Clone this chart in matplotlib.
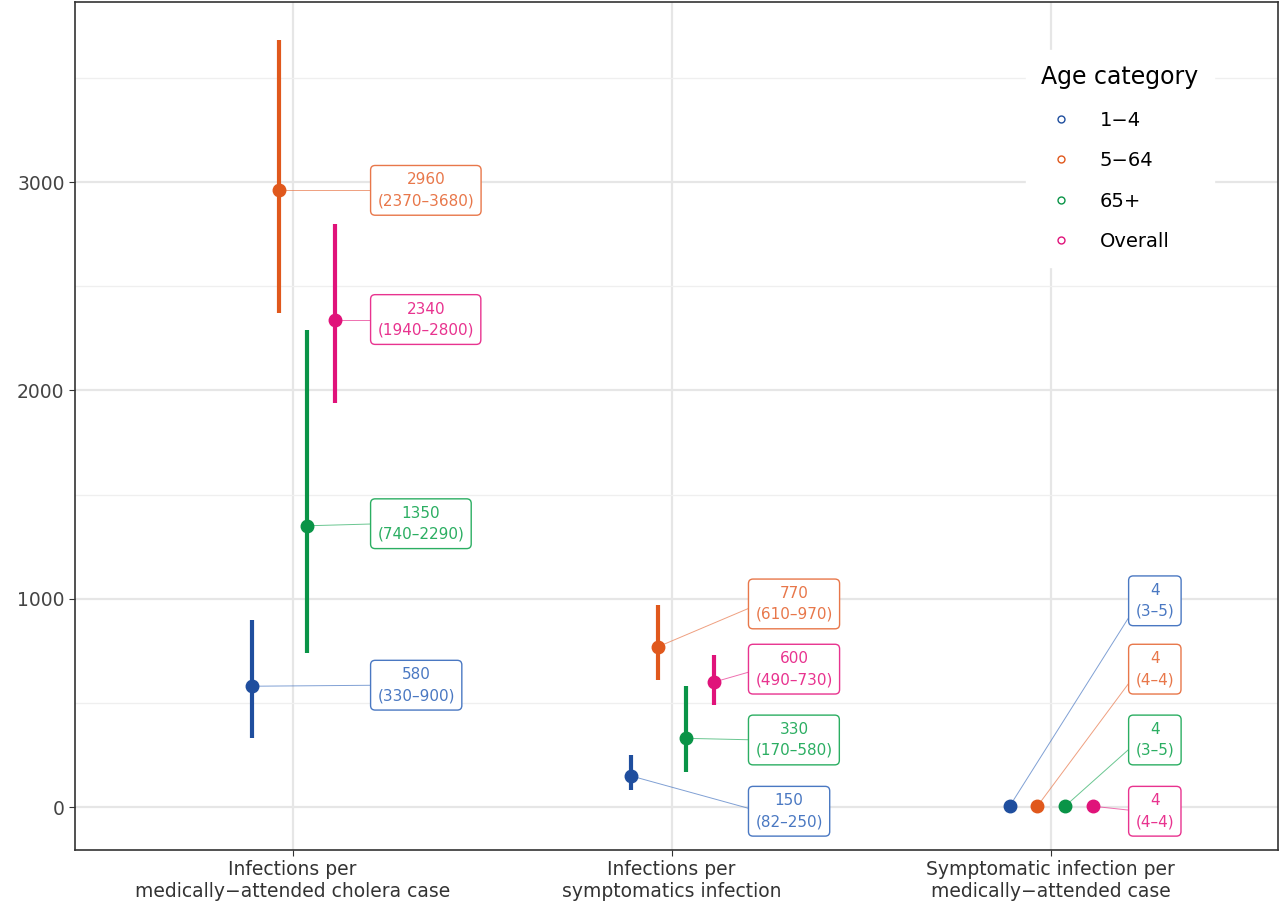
import matplotlib
matplotlib.use("Agg")
import matplotlib.pyplot as plt
from matplotlib.lines import Line2D

categories = ["Infections per\nmedically\u2212attended cholera case",
              "Infections per\nsymptomatics infection",
              "Symptomatic infection per\nmedically\u2212attended case"]
groups = ["1\u22124", "5\u221264", "65+", "Overall"]
est = {"1\u22124": [580, 150, 4], "5\u221264": [2960, 770, 4], "65+": [1350, 330, 4], "Overall": [2340, 600, 4]}
low = {"1\u22124": [330, 82, 3], "5\u221264": [2370, 610, 4], "65+": [740, 170, 3], "Overall": [1940, 490, 4]}
high = {"1\u22124": [900, 250, 5], "5\u221264": [3680, 970, 4], "65+": [2290, 580, 5], "Overall": [2800, 730, 4]}

colors = {"1\u22124": "#1F4E9E", "5\u221264": "#E0581C", "65+": "#0A9447", "Overall": "#E0137A"}
lcolors = {"1\u22124": "#4A78C2", "5\u221264": "#E8774A", "65+": "#2BAE62", "Overall": "#E8338F"}
dodge = {"1\u22124": -0.108, "5\u221264": -0.035, "65+": 0.038, "Overall": 0.112}
label_dx = [0.224, 0.221, 0.224]
label_y = {"1\u22124": [585, -20, 990], "5\u221264": [2960, 975, 662], "65+": [1360, 322, 322], "Overall": [2340, 662, -20]}

fig = plt.figure(figsize=(12.8, 9.08), dpi=100)
ax = fig.add_axes([75/1280, 58/908, 1203/1280, 848/908])
ax.set_xlim(0.426, 3.6)
ax.set_ylim(-206, 3864)
ax.set_yticks([0, 1000, 2000, 3000])
ax.set_yticks([500, 1500, 2500, 3500], minor=True)
ax.set_xticks([1, 2, 3])
ax.set_xticklabels(categories, fontsize=13.5, color="#333333")
ax.tick_params(axis="y", labelsize=13.5, labelcolor="#444444", length=4, color="#333333")
ax.tick_params(axis="x", length=4, color="#333333")
ax.tick_params(axis="y", which="minor", length=0)
ax.grid(True, which="major", color="#E6E6E6", lw=1.6, zorder=0)
ax.grid(True, which="minor", axis="y", color="#EFEFEF", lw=0.9, zorder=0)
ax.set_axisbelow(True)
for s in ax.spines.values():
    s.set_color("#333333"); s.set_linewidth(1.2)

for g in groups:
    for i in range(3):
        x = i + 1 + dodge[g]
        ax.plot([x, x], [low[g][i], high[g][i]], color=colors[g], lw=3, zorder=3, solid_capstyle="butt")
        ax.plot(x, est[g][i], "o", color=colors[g], ms=9, zorder=4)
        lx = i + 1 + label_dx[i]
        ly = label_y[g][i]
        ax.plot([x, lx + 0.01], [est[g][i], ly], color=lcolors[g], lw=0.7, alpha=0.7, zorder=2)
        ax.text(lx, ly, f"{est[g][i]}\n({low[g][i]}\u2013{high[g][i]})", ha="left", va="center",
                fontsize=11, color=lcolors[g], linespacing=1.5, zorder=5, multialignment="center",
                bbox=dict(boxstyle="round,pad=0.45,rounding_size=0.3", fc="white", ec=lcolors[g], lw=1))

handles = [Line2D([], [], marker="o", ls="", mfc="none", mec=colors[g], ms=5, mew=1) for g in groups]
leg = ax.legend(handles, groups, title="Age category", loc="upper right", bbox_to_anchor=(0.955, 0.955),
                frameon=True, fontsize=14, title_fontsize=17, labelspacing=1.1, handletextpad=1.0,
                borderpad=0.8)
leg.get_frame().set_edgecolor("white")
leg.get_frame().set_facecolor("white")
leg.get_frame().set_alpha(1)
leg._legend_box.align = "left"

fig.savefig("out.png", dpi=100)
